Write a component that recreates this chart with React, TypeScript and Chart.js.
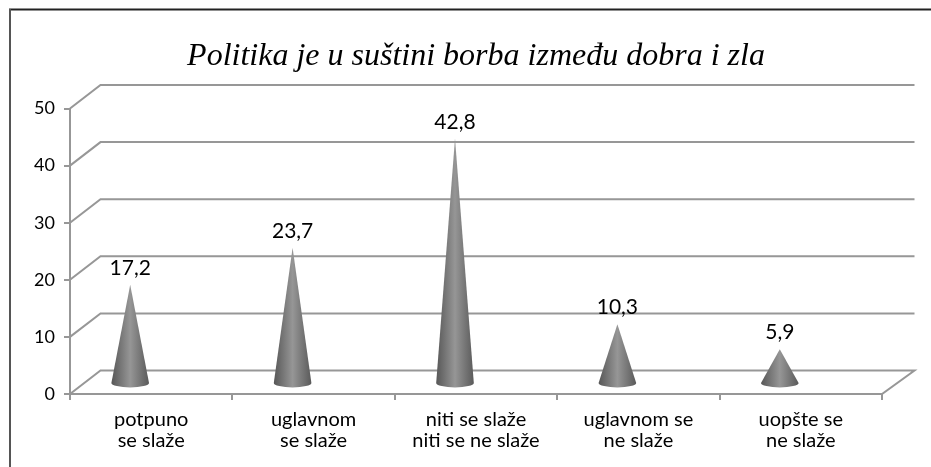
import React, { useEffect, useRef } from "react";
import { Chart, registerables } from "chart.js";

Chart.register(...registerables);

const titleText = "Politika je u suštini borba između dobra i zla";
const categories = [
  ["potpuno", "se slaže"],
  ["uglavnom", "se slaže"],
  ["niti se slaže", "niti se ne slaže"],
  ["uglavnom se", "ne slaže"],
  ["uopšte se", "ne slaže"],
];
const values = [17.2, 23.7, 42.8, 10.3, 5.9];
const valueLabels = ["17,2", "23,7", "42,8", "10,3", "5,9"];
const yTicks = [0, 10, 20, 30, 40, 50];

const GRID = "#979797";
const DEPTH_X = 30.5;
const DEPTH_Y = 23.5;
const CONE_SHIFT_X = -21;
const CONE_LIFT = 11;
const CONE_HALF = 18.8;
const CONE_RY = 4.4;

const scene3d = {
  id: "scene3d",
  beforeDraw(chart: any) {
    const { ctx, width, height } = chart;
    ctx.save();
    ctx.fillStyle = "#fff";
    ctx.fillRect(0, 0, width, height);
    ctx.strokeStyle = "#222";
    ctx.lineWidth = 2;
    ctx.beginPath();
    ctx.moveTo(9, 9.5);
    ctx.lineTo(width, 9.5);
    ctx.stroke();
    ctx.strokeStyle = "#555";
    ctx.beginPath();
    ctx.moveTo(10, 9);
    ctx.lineTo(10, height);
    ctx.stroke();
    ctx.restore();
  },
  beforeDatasetsDraw(chart: any) {
    const { ctx, scales } = chart;
    const { x, y } = scales;
    const left = x.left;
    const right = x.right;
    ctx.save();
    ctx.strokeStyle = GRID;
    ctx.lineWidth = 2;
    ctx.lineJoin = "miter";
    yTicks.forEach((t) => {
      const py = y.getPixelForValue(t);
      ctx.beginPath();
      ctx.moveTo(left, py);
      ctx.lineTo(left + DEPTH_X, py - DEPTH_Y);
      ctx.lineTo(right + DEPTH_X + 2, py - DEPTH_Y);
      if (t === 0) {
        ctx.lineTo(right, py);
        ctx.lineTo(left, py);
      }
      ctx.stroke();
    });
    ctx.restore();
  },
  afterDatasetsDraw(chart: any) {
    const { ctx, scales } = chart;
    const { x, y } = scales;
    const base = y.getPixelForValue(0) - CONE_LIFT;
    const unit = y.getPixelForValue(0) - y.getPixelForValue(1);
    values.forEach((v, i) => {
      const cx = x.getPixelForValue(i) + CONE_SHIFT_X;
      const apex = base - v * unit;
      const g = ctx.createLinearGradient(cx - CONE_HALF, 0, cx + CONE_HALF, 0);
      g.addColorStop(0, "#575757");
      g.addColorStop(0.5, "#969696");
      g.addColorStop(1, "#5a5a5a");
      ctx.save();
      ctx.fillStyle = g;
      ctx.beginPath();
      ctx.moveTo(cx, apex);
      ctx.lineTo(cx - CONE_HALF, base);
      ctx.ellipse(cx, base, CONE_HALF, CONE_RY, 0, Math.PI, 0, true);
      ctx.closePath();
      ctx.fill();
      ctx.fillStyle = "#000";
      ctx.font = "21px Lato";
      ctx.textAlign = "center";
      ctx.textBaseline = "alphabetic";
      ctx.fillText(valueLabels[i], cx, apex - 10);
      ctx.restore();
    });
  },
};

export default function App() {
  const ref = useRef<HTMLCanvasElement>(null);
  useEffect(() => {
    const chart = new Chart(ref.current as HTMLCanvasElement, {
      type: "bar",
      data: {
        labels: categories as any,
        datasets: [
          {
            data: values,
            backgroundColor: "rgba(0,0,0,0)",
            borderWidth: 0,
          },
        ],
      },
      plugins: [scene3d],
      options: {
        responsive: false,
        animation: false,
        devicePixelRatio: 1,
        layout: { padding: { top: 0, right: 49, left: 0, bottom: 0 } },
        plugins: {
          legend: { display: false },
          tooltip: { enabled: false },
          title: {
            display: true,
            text: titleText,
            fullSize: false,
            color: "#000",
            font: { family: "Liberation Serif", style: "italic", weight: "normal", size: 32, lineHeight: 1.2 },
            padding: { top: 37.8, bottom: 32.3 },
          },
        },
        scales: {
          x: {
            afterFit: (s: any) => {
              s.height = 73;
            },
            border: { color: GRID, width: 2 },
            grid: { drawOnChartArea: false, color: GRID, lineWidth: 2, tickLength: 6 },
            ticks: {
              color: "#000",
              font: { family: "Lato", size: 20, lineHeight: 1.05 },
              padding: 9.5,
              maxRotation: 0,
              autoSkip: false,
            },
          },
          y: {
            min: 0,
            max: 50,
            afterFit: (s: any) => {
              s.width = 70;
            },
            border: { color: GRID, width: 2 },
            grid: { drawOnChartArea: false, color: GRID, lineWidth: 2, tickLength: 6 },
            ticks: {
              stepSize: 10,
              color: "#000",
              font: { family: "Lato", size: 18 },
              padding: 9,
            },
          },
        },
      } as any,
    });
    return () => chart.destroy();
  }, []);
  return (
    <div style={{ position: "fixed", left: 0, top: 0, width: 931, height: 467, background: "#fff" }}>
      <canvas ref={ref} width={931} height={467} style={{ display: "block" }} />
    </div>
  );
}
